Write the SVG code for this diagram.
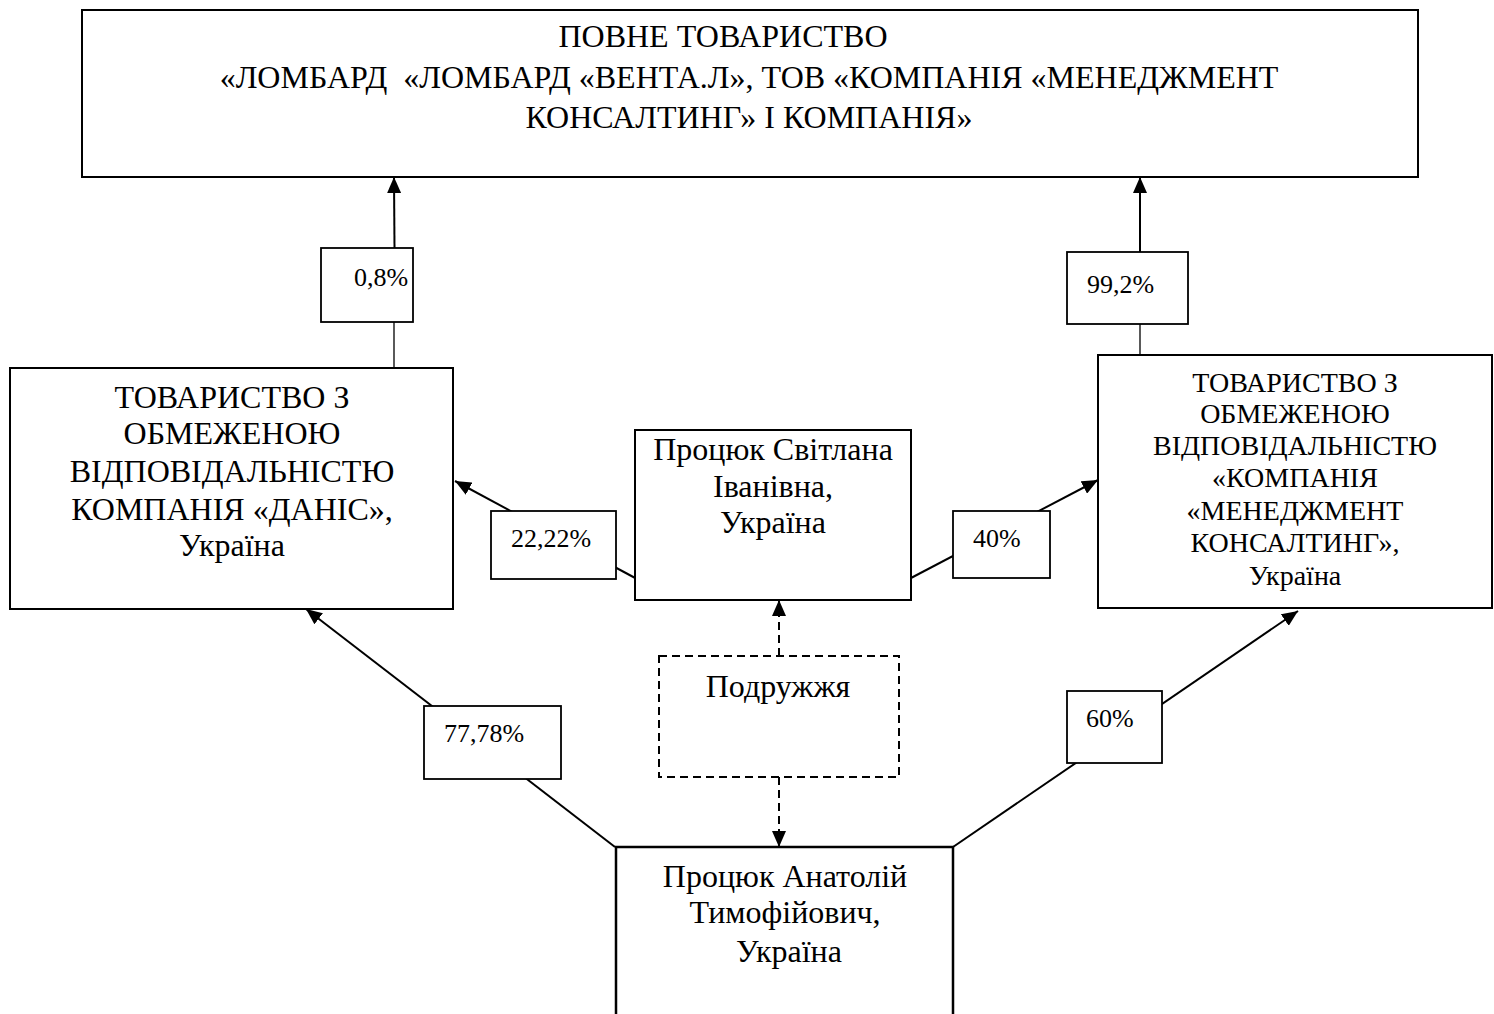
<svg xmlns="http://www.w3.org/2000/svg" width="1494" height="1014" viewBox="0 0 1494 1014">
<style>
  .box{fill:#fff;stroke:#000;stroke-width:2}
  .lbl{fill:#fff;stroke:#000;stroke-width:1.8}
  .dash{fill:#fff;stroke:#000;stroke-width:2;stroke-dasharray:8 5}
  .t{font-family:"Liberation Serif","Times New Roman",serif;font-size:32px;fill:#000}
  .tm{font-family:"Liberation Serif","Times New Roman",serif;font-size:28px;fill:#000}
  .ts{font-family:"Liberation Serif","Times New Roman",serif;font-size:26px;fill:#000}
  .c{text-anchor:middle}
  .ln{stroke:#000;stroke-width:2;fill:none}
  .thin{stroke:#000;stroke-width:1.3;fill:none}
  .dl{stroke:#000;stroke-width:2;fill:none;stroke-dasharray:8 5}
</style>
<defs>
  <marker id="arr" markerUnits="userSpaceOnUse" markerWidth="18" markerHeight="14" refX="16" refY="7" orient="auto">
    <path d="M0,0 L16,7 L0,14 Z" fill="#000"/>
  </marker>
</defs>
<rect width="1494" height="1014" fill="#fff"/>

<g id="connectors">
  <line class="thin" x1="394" y1="368" x2="394" y2="322"/>
  <line class="ln" x1="394.5" y1="248" x2="394" y2="177" marker-end="url(#arr)"/>
  <line class="thin" x1="1140" y1="355" x2="1140" y2="324"/>
  <line class="ln" x1="1140" y1="252" x2="1140" y2="177" marker-end="url(#arr)"/>
  <line class="ln" x1="637" y1="579" x2="455" y2="481" marker-end="url(#arr)"/>
  <line class="ln" x1="911" y1="578" x2="1098" y2="480" marker-end="url(#arr)"/>
  <line class="ln" x1="615" y1="847" x2="306" y2="609" marker-end="url(#arr)"/>
  <line class="ln" x1="953" y1="847" x2="1298" y2="611" marker-end="url(#arr)"/>
  <line class="dl" x1="779" y1="656" x2="779" y2="600" marker-end="url(#arr)"/>
  <line class="dl" x1="779" y1="777" x2="779" y2="847" marker-end="url(#arr)"/>
</g>

<g id="labels">
  <g id="lbl-08"><rect class="lbl" x="321" y="248" width="92" height="74"/><text class="ts" x="354" y="286">0,8%</text></g>
  <g id="lbl-992"><rect class="lbl" x="1067" y="252" width="121" height="72"/><text class="ts" x="1087" y="293">99,2%</text></g>
  <g id="lbl-2222"><rect class="lbl" x="491" y="511" width="125" height="68"/><text class="ts" x="511" y="547">22,22%</text></g>
  <g id="lbl-40"><rect class="lbl" x="953" y="511" width="97" height="67"/><text class="ts" x="973" y="547">40%</text></g>
  <g id="lbl-7778"><rect class="lbl" x="424" y="706" width="137" height="73"/><text class="ts" x="444" y="742">77,78%</text></g>
  <g id="lbl-60"><rect class="lbl" x="1067" y="691" width="95" height="72"/><text class="ts" x="1086" y="727">60%</text></g>
</g>

<g id="node-top">
  <rect class="box" x="82" y="10" width="1336" height="167"/>
  <text class="t c" x="723" y="47">ПОВНЕ ТОВАРИСТВО</text>
  <text class="t c" x="749" y="88" xml:space="preserve">«ЛОМБАРД  «ЛОМБАРД «ВЕНТА.Л», ТОВ «КОМПАНІЯ «МЕНЕДЖМЕНТ</text>
  <text class="t c" x="749" y="128">КОНСАЛТИНГ» І КОМПАНІЯ»</text>
</g>

<g id="node-danis">
  <rect class="box" x="10" y="368" width="443" height="241"/>
  <text class="t c" x="232" y="408">ТОВАРИСТВО З</text>
  <text class="t c" x="232" y="444">ОБМЕЖЕНОЮ</text>
  <text class="t c" x="232" y="482">ВІДПОВІДАЛЬНІСТЮ</text>
  <text class="t c" x="232" y="520">КОМПАНІЯ «ДАНІС»,</text>
  <text class="t c" x="232" y="556">Україна</text>
</g>

<g id="node-svitlana">
  <rect class="box" x="635" y="430" width="276" height="170"/>
  <text class="t c" x="773" y="460">Процюк Світлана</text>
  <text class="t c" x="773" y="497">Іванівна,</text>
  <text class="t c" x="773" y="533">Україна</text>
</g>

<g id="node-mk">
  <rect class="box" x="1098" y="355" width="394" height="253"/>
  <text class="tm c" x="1295" y="392">ТОВАРИСТВО З</text>
  <text class="tm c" x="1295" y="423">ОБМЕЖЕНОЮ</text>
  <text class="tm c" x="1295" y="455">ВІДПОВІДАЛЬНІСТЮ</text>
  <text class="tm c" x="1295" y="487">«КОМПАНІЯ</text>
  <text class="tm c" x="1295" y="520">«МЕНЕДЖМЕНТ</text>
  <text class="tm c" x="1295" y="552">КОНСАЛТИНГ»,</text>
  <text class="tm c" x="1295" y="585">Україна</text>
</g>

<g id="node-spouses">
  <rect class="dash" x="659" y="656" width="240" height="121"/>
  <text class="t c" x="778" y="697">Подружжя</text>
</g>

<g id="node-anatoliy">
  <path class="box" d="M616,1016 L616,847 L953,847 L953,1016" style="stroke-width:2.5"/>
  <text class="t c" x="785" y="887">Процюк Анатолій</text>
  <text class="t c" x="785" y="923">Тимофійович,</text>
  <text class="t c" x="789" y="962">Україна</text>
</g>
</svg>
